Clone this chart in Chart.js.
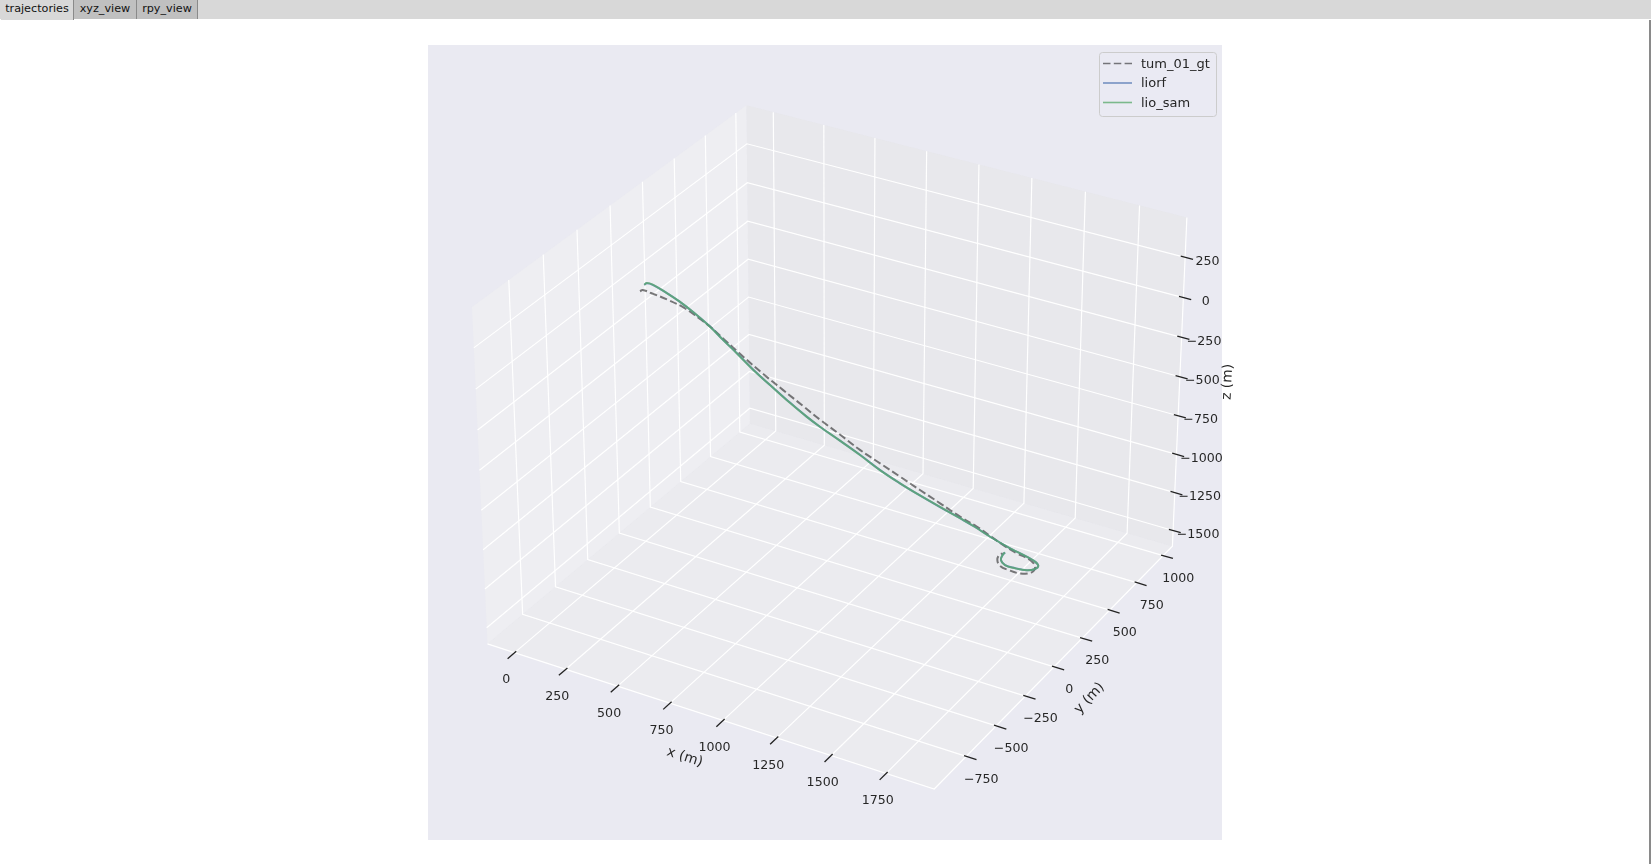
<!doctype html>
<html>
<head>
<meta charset="utf-8">
<title>trajectories</title>
<script src="https://cdn.jsdelivr.net/npm/chart.js@4"></script>
<style>
  html, body { margin: 0; padding: 0; background: #fff; overflow: hidden; }
  #tabs { position: absolute; left: 0; top: 0; width: 1651px; height: 19px; background: #d8d8d8; }
  .tab { position: absolute; top: 0; height: 19px; font: 11.2px/18px "DejaVu Sans"; color: #111; text-align: center; background: #c0c0c0; border-right: 1px solid #8a8a8a; box-sizing: border-box; }
  .tab.on { background: #d8d8d8; height: 20px; }
  #edge { position: absolute; left: 1649px; top: 20px; width: 2px; height: 844px; background: #8a8a8a; }
  #fig { position: absolute; left: 428px; top: 45px; width: 794px; height: 795px; background: #eaeaf2; }
  #wrap { position: absolute; left: 0; top: 19px; width: 1649px; height: 845px; }
</style>
</head>
<body>
<div id="tabs">
  <div class="tab on" style="left:1px;width:73px">trajectories</div>
  <div class="tab" style="left:74px;width:63px">xyz_view</div>
  <div class="tab" style="left:137px;width:61px">rpy_view</div>
</div>
<div id="edge"></div>
<div id="fig"></div>
<div id="wrap"><canvas id="trajChart" width="1649" height="845"></canvas></div>
<script>
// ticks
var xTicks = [0, 250, 500, 750, 1000, 1250, 1500, 1750];
var yTicks = [-750, -500, -250, 0, 250, 500, 750, 1000];
var zTicks = [250, 0, -250, -500, -750, -1000, -1250, -1500];

// axis limits (equal range on all three)
var xLim = [-134, 1966];
var yLim = [-1012, 1088];
var zLim = [-1605, 495];

// tum_01_gt
var gtX = [-3, 9, 47, 124, 199, 270, 315, 390, 465, 555, 645, 735, 810, 900, 990, 1080, 1170, 1259, 1349, 1438, 1512, 1572, 1631, 1690, 1749, 1772, 1758, 1707, 1655, 1618, 1606, 1614, 1629];
var gtY = [8, 9, 13, 20, 28, 35, 40, 47, 54, 63, 72, 81, 89, 98, 107, 116, 125, 134, 143, 152, 160, 166, 171, 178, 184, 186, 184, 179, 174, 170, 169, 170, 171];
var gtZ = [4, 16, 8, -11, -40, -88, -122, -194, -265, -346, -420, -493, -555, -621, -690, -746, -802, -858, -913, -969, -1008, -1048, -1086, -1119, -1142, -1177, -1218, -1242, -1238, -1223, -1190, -1155, -1140];

// liorf
var liorfX = [17, 29, 56, 117, 178, 245, 315, 375, 436, 510, 585, 661, 750, 810, 900, 990, 1081, 1170, 1259, 1349, 1438, 1505, 1572, 1661, 1734, 1771, 1786, 1772, 1736, 1685, 1641, 1622, 1629, 1639];
var liorfY = [10, 11, 14, 20, 26, 32, 40, 45, 52, 59, 67, 74, 83, 89, 98, 107, 116, 125, 134, 143, 152, 159, 166, 175, 182, 186, 187, 186, 182, 177, 172, 170, 171, 172];
var liorfZ = [50, 64, 62, 31, -7, -58, -122, -188, -253, -334, -407, -477, -555, -600, -660, -721, -789, -844, -892, -937, -979, -1013, -1053, -1097, -1126, -1145, -1166, -1192, -1212, -1216, -1211, -1185, -1150, -1131];

// lio_sam
var samX = [17, 29, 56, 117, 177, 245, 315, 375, 435, 510, 585, 660, 750, 810, 900, 990, 1080, 1170, 1259, 1349, 1438, 1505, 1572, 1661, 1734, 1771, 1786, 1772, 1736, 1685, 1640, 1622, 1629, 1639];
var samY = [10, 11, 14, 20, 26, 32, 40, 45, 52, 59, 67, 74, 83, 89, 98, 107, 116, 125, 134, 143, 152, 159, 166, 175, 182, 186, 187, 186, 182, 177, 172, 170, 171, 172];
var samZ = [51, 65, 63, 31, -6, -58, -123, -188, -253, -335, -407, -478, -555, -600, -660, -722, -789, -844, -892, -936, -979, -1013, -1053, -1097, -1126, -1145, -1166, -1192, -1212, -1217, -1211, -1185, -1150, -1130];

// same camera as matplotlib's default 3d view, elev 30, azim -60, dist 10
var boxX = 1.142857, boxZ = 0.857143;
function project(x, y, z) {
  var px = ((x - xLim[0]) / (xLim[1] - xLim[0]) - 0.5) * boxX;
  var py = ((y - yLim[0]) / (yLim[1] - yLim[0]) - 0.5) * boxX;
  var pz = ((z - zLim[0]) / (zLim[1] - zLim[0]) - 0.5) * boxZ;
  var w = 10 - (0.4330127 * px - 0.75 * py + 0.5 * pz);
  return {
    x: (0.8660254 * px + 0.5 * py) / w,
    y: (-0.25 * px + 0.4330127 * py + 0.8660254 * pz) / w
  };
}

function path3d(points) {
  return points.map(function (p) { return project(p[0], p[1], p[2]); });
}

function series(xs, ys, zs) {
  return xs.map(function (v, i) { return project(v, ys[i], zs[i]); });
}

function plain(points, color, width, order) {
  return { label: '', data: path3d(points), showLine: true, borderColor: color, borderWidth: width, pointRadius: 0, order: order };
}

function pane(points, color) {
  return { label: '', data: path3d(points), showLine: true, fill: 'shape', backgroundColor: color, borderWidth: 0, pointRadius: 0, order: 20 };
}

var x0 = xLim[0], x1 = xLim[1], y0 = yLim[0], y1 = yLim[1], z0 = zLim[0], z1 = zLim[1];
var datasets = [
  pane([[x0, y0, z0], [x0, y1, z0], [x0, y1, z1], [x0, y0, z1], [x0, y0, z0]], 'rgba(242,242,242,0.5)'),
  pane([[x0, y1, z0], [x1, y1, z0], [x1, y1, z1], [x0, y1, z1], [x0, y1, z0]], 'rgba(230,230,230,0.5)'),
  pane([[x0, y0, z0], [x1, y0, z0], [x1, y1, z0], [x0, y1, z0], [x0, y0, z0]], 'rgba(236,236,236,0.5)')
];

// grid, white like the seaborn style
xTicks.forEach(function (t) {
  datasets.push(plain([[t, y0, z0], [t, y1, z0], [t, y1, z1]], '#ffffff', 1.2, 15));
  datasets.push(plain([[t, y0 - 52, z0], [t, y0 + 12, z0]], '#222222', 1.3, 12));
});
yTicks.forEach(function (t) {
  datasets.push(plain([[x1, t, z0], [x0, t, z0], [x0, t, z1]], '#ffffff', 1.2, 15));
  datasets.push(plain([[x1 - 10, t, z0], [x1 + 46, t, z0]], '#222222', 1.3, 12));
});
zTicks.forEach(function (t) {
  datasets.push(plain([[x0, y0, t], [x0, y1, t], [x1, y1, t]], '#ffffff', 1.2, 15));
  datasets.push(plain([[x1 - 20, y1, t], [x1 + 36, y1, t]], '#222222', 1.3, 12));
});

// axis lines
datasets.push(plain([[x0, y0, z0], [x1, y0, z0], [x1, y1, z0], [x1, y1, z1]], '#ffffff', 1.2, 14));

datasets.push({ label: 'tum_01_gt', data: series(gtX, gtY, gtZ), showLine: true, tension: 0.4, borderColor: 'rgba(0,0,0,0.5)', borderWidth: 2, borderDash: [7.5, 3.3], pointRadius: 0, order: 3 });
datasets.push({ label: 'liorf', data: series(liorfX, liorfY, liorfZ), showLine: true, tension: 0.4, borderColor: 'rgba(76,114,176,0.75)', borderWidth: 2, pointRadius: 0, order: 2 });
datasets.push({ label: 'lio_sam', data: series(samX, samY, samZ), showLine: true, tension: 0.4, borderColor: 'rgba(85,168,104,0.75)', borderWidth: 2, pointRadius: 0, order: 1 });

function label(ctx, chart, text, p, dx, dy, font, angle) {
  var px = chart.scales.x.getPixelForValue(p.x) + dx;
  var py = chart.scales.y.getPixelForValue(p.y) + dy;
  ctx.save();
  ctx.translate(px, py);
  ctx.rotate((angle || 0) * Math.PI / 180);
  ctx.font = font;
  ctx.fillStyle = '#262626';
  ctx.textAlign = 'center';
  ctx.textBaseline = 'middle';
  ctx.fillText(text, 0, 0);
  ctx.restore();
}

function tickText(v) {
  return String(v).replace('-', '\u2212');
}

var tickFont = '12.6px "DejaVu Sans"';
var axisFont = '13.9px "DejaVu Sans"';

var axisText = {
  id: 'axisText',
  afterDatasetsDraw: function (chart) {
    var ctx = chart.ctx;
    xTicks.forEach(function (t) { label(ctx, chart, tickText(t), project(t, y0, z0), -8.5, 27.5, tickFont); });
    yTicks.forEach(function (t) { label(ctx, chart, tickText(t), project(x1, t, z0), 15, 23, tickFont); });
    zTicks.forEach(function (t) { label(ctx, chart, tickText(t), project(x1, y1, t), t < -750 ? 25 : 22.5, 4, tickFont); });
    label(ctx, chart, 'x (m)', project(975, y0, z0), -33, 38.6, axisFont, 18);
    label(ctx, chart, 'y (m)', project(x1, 30, z0), 32, 35, axisFont, -47);
    label(ctx, chart, 'z (m)', project(x1, y1, -520), 48, 2, axisFont, -87);
  }
};

var legendBox = {
  id: 'legendBox',
  afterDraw: function (chart) {
    var ctx = chart.ctx;
    var lines = chart.data.datasets.filter(function (d) { return d.label; });
    ctx.save();
    ctx.beginPath();
    ctx.roundRect(1099.5, 33.5, 117, 64, 3);
    ctx.fillStyle = 'rgba(234,234,242,0.8)';
    ctx.fill();
    ctx.strokeStyle = '#cccccc';
    ctx.lineWidth = 1;
    ctx.stroke();
    lines.forEach(function (d, i) {
      var y = 44.5 + i * 19.5;
      ctx.beginPath();
      ctx.setLineDash(d.borderDash || []);
      ctx.strokeStyle = d.borderColor;
      ctx.lineWidth = 1.6;
      ctx.moveTo(1103, y);
      ctx.lineTo(1132, y);
      ctx.stroke();
      ctx.setLineDash([]);
      ctx.font = '13px "DejaVu Sans"';
      ctx.fillStyle = '#262626';
      ctx.textBaseline = 'middle';
      ctx.textAlign = 'left';
      ctx.fillText(d.label, 1141, y + 1);
    });
    ctx.restore();
  }
};

new Chart(document.getElementById('trajChart'), {
  type: 'scatter',
  data: { datasets: datasets },
  plugins: [axisText, legendBox],
  options: {
    responsive: false,
    animation: false,
    events: [],
    layout: { padding: 0 },
    plugins: {
      legend: { display: false },
      tooltip: { enabled: false }
    },
    scales: {
      x: { type: 'linear', display: false, min: -836 / 4480, max: (1649 - 836) / 4480 },
      y: { type: 'linear', display: false, min: (431.4 - 864) / 4480, max: (431.4 - 19) / 4480 }
    }
  }
});
</script>
</body>
</html>
